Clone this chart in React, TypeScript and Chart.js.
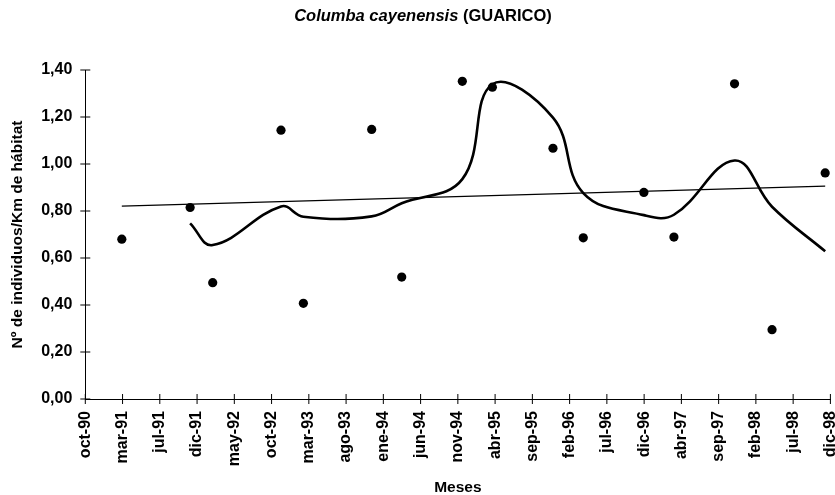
import React, { useEffect, useRef } from "react";
import { Chart, registerables } from "chart.js";

Chart.register(...registerables);

// ---- data ----
const AXIS_START = "1990-10-05";
const TICK_STEP_DAYS = 150;

const tickLabels = [
  "oct-90", "mar-91", "jul-91", "dic-91", "may-92", "oct-92", "mar-93",
  "ago-93", "ene-94", "jun-94", "nov-94", "abr-95", "sep-95", "feb-96",
  "jul-96", "dic-96", "abr-97", "sep-97", "feb-98", "jul-98", "dic-98",
];

const sampleDates = [
  "1991-03-01", "1991-12-01", "1992-03-01", "1992-12-01", "1993-03-01",
  "1993-12-01", "1994-04-01", "1994-12-01", "1995-04-01", "1995-12-01",
  "1996-04-01", "1996-12-01", "1997-04-01", "1997-12-01", "1998-05-01",
  "1998-12-01",
];

const densityValues = [
  0.68, 0.815, 0.495, 1.144, 0.407, 1.147, 0.519, 1.352, 1.327, 1.067,
  0.686, 0.879, 0.689, 1.341, 0.295, 0.962,
];

const trendStartValue = 0.821;
const trendEndValue = 0.906;

const yMin = 0;
const yMax = 1.4;
const yStep = 0.2;

const titleItalic = "Columba cayenensis";
const titleRest = " (GUARICO)";
const yTitle = "Nº de individuos/Km de hábitat";
const xTitle = "Meses";

// ---- helpers ----
const FONT = "'Liberation Sans', Arial, sans-serif";
const dayOffset = (d: string) =>
  (Date.parse(d) - Date.parse(AXIS_START)) / 86400000;

const points = sampleDates.map((d, i) => ({ x: dayOffset(d), y: densityValues[i] }));
const movingAvg = points.slice(1).map((p, i) => ({
  x: p.x,
  y: (points[i].y + p.y) / 2,
}));
const trend = [
  { x: points[0].x, y: trendStartValue },
  { x: points[points.length - 1].x, y: trendEndValue },
];

const crossTicks = {
  id: "crossTicks",
  afterDraw(chart: any) {
    const { ctx, chartArea } = chart;
    const xs = chart.scales.x;
    const ys = chart.scales.y;
    ctx.save();
    ctx.strokeStyle = "#000";
    ctx.lineWidth = 1;
    ctx.beginPath();
    xs.ticks.forEach((_t: any, i: number) => {
      const px = xs.getPixelForTick(i);
      ctx.moveTo(px, chartArea.bottom - 5);
      ctx.lineTo(px, chartArea.bottom + 5);
    });
    ys.ticks.forEach((_t: any, i: number) => {
      const py = ys.getPixelForTick(i);
      ctx.moveTo(chartArea.left - 5, py);
      ctx.lineTo(chartArea.left + 5, py);
    });
    ctx.stroke();
    ctx.restore();
  },
};

const mixedTitle = {
  id: "mixedTitle",
  afterDraw(chart: any) {
    const { ctx } = chart;
    ctx.save();
    ctx.fillStyle = "#000";
    ctx.textBaseline = "alphabetic";
    ctx.textAlign = "left";
    const fItalic = `italic bold 16.5px ${FONT}`;
    const fBold = `bold 16.5px ${FONT}`;
    ctx.font = fItalic;
    const w1 = ctx.measureText(titleItalic).width;
    ctx.font = fBold;
    const w2 = ctx.measureText(titleRest).width;
    const cx = 423;
    const x0 = cx - (w1 + w2) / 2;
    ctx.font = fItalic;
    ctx.fillText(titleItalic, x0, 21);
    ctx.font = fBold;
    ctx.fillText(titleRest, x0 + w1, 21);
    ctx.restore();
  },
};

export default function App() {
  const ref = useRef<HTMLCanvasElement | null>(null);

  useEffect(() => {
    if (!ref.current) return;
    const chart = new Chart(ref.current, {
      type: "scatter",
      data: {
        datasets: [
          {
            type: "line",
            label: "Media móvil",
            data: movingAvg,
            borderColor: "#000",
            borderWidth: 2.6,
            pointRadius: 0,
            tension: 0.4,
            fill: false,
            order: 1,
          },
          {
            type: "line",
            label: "Tendencia",
            data: trend,
            borderColor: "#000",
            borderWidth: 1.2,
            pointRadius: 0,
            fill: false,
            order: 2,
          },
          {
            type: "scatter",
            label: "Densidad",
            data: points,
            backgroundColor: "#000",
            borderColor: "#000",
            borderWidth: 0,
            pointRadius: 4.6,
            order: 3,
          },
        ],
      },
      options: {
        responsive: false,
        animation: false,
        layout: { padding: { top: 70, right: 4.3, bottom: 0, left: 0 } },
        plugins: {
          legend: { display: false },
          tooltip: { enabled: false },
          title: { display: false },
        },
        scales: {
          x: {
            type: "linear",
            min: 0,
            max: TICK_STEP_DAYS * (tickLabels.length - 1),
            afterBuildTicks: (scale: any) => {
              scale.ticks = tickLabels.map((_l, i) => ({ value: i * TICK_STEP_DAYS }));
            },
            afterFit: (scale: any) => {
              scale.height = 96;
              scale.paddingRight = 0;
              scale.paddingLeft = 0;
            },
            grid: { display: false, drawTicks: false },
            border: { display: true, color: "#000", width: 1 },
            ticks: {
              autoSkip: false,
              minRotation: 90,
              maxRotation: 90,
              padding: 12,
              color: "#000",
              font: { family: FONT, size: 16, weight: "bold" },
              callback: (_v: any, i: number) => tickLabels[i],
            },
            title: {
              display: true,
              text: xTitle,
              color: "#000",
              padding: { top: 0, bottom: 0 },
              font: { family: FONT, size: 15.5, weight: "bold", lineHeight: 1 },
            },
          },
          y: {
            type: "linear",
            min: yMin,
            max: yMax,
            afterFit: (scale: any) => {
              scale.width = 85.3;
            },
            grid: { display: false, drawTicks: false },
            border: { display: true, color: "#000", width: 1 },
            ticks: {
              stepSize: yStep,
              padding: 13,
              color: "#000",
              font: { family: FONT, size: 16, weight: "bold" },
              callback: (v: any) => Number(v).toFixed(2).replace(".", ","),
            },
            title: {
              display: true,
              text: yTitle,
              color: "#000",
              padding: { top: 9.75, bottom: 0 },
              font: { family: FONT, size: 15.5, weight: "bold", lineHeight: 1 },
            },
          },
        },
      },
      plugins: [crossTicks, mixedTitle],
    } as any);
    return () => chart.destroy();
  }, []);

  return (
    <div style={{ position: "fixed", left: 0, top: 0, width: 835, height: 495, background: "#fff" }}>
      <canvas ref={ref} width={835} height={495} style={{ display: "block" }} />
    </div>
  );
}
